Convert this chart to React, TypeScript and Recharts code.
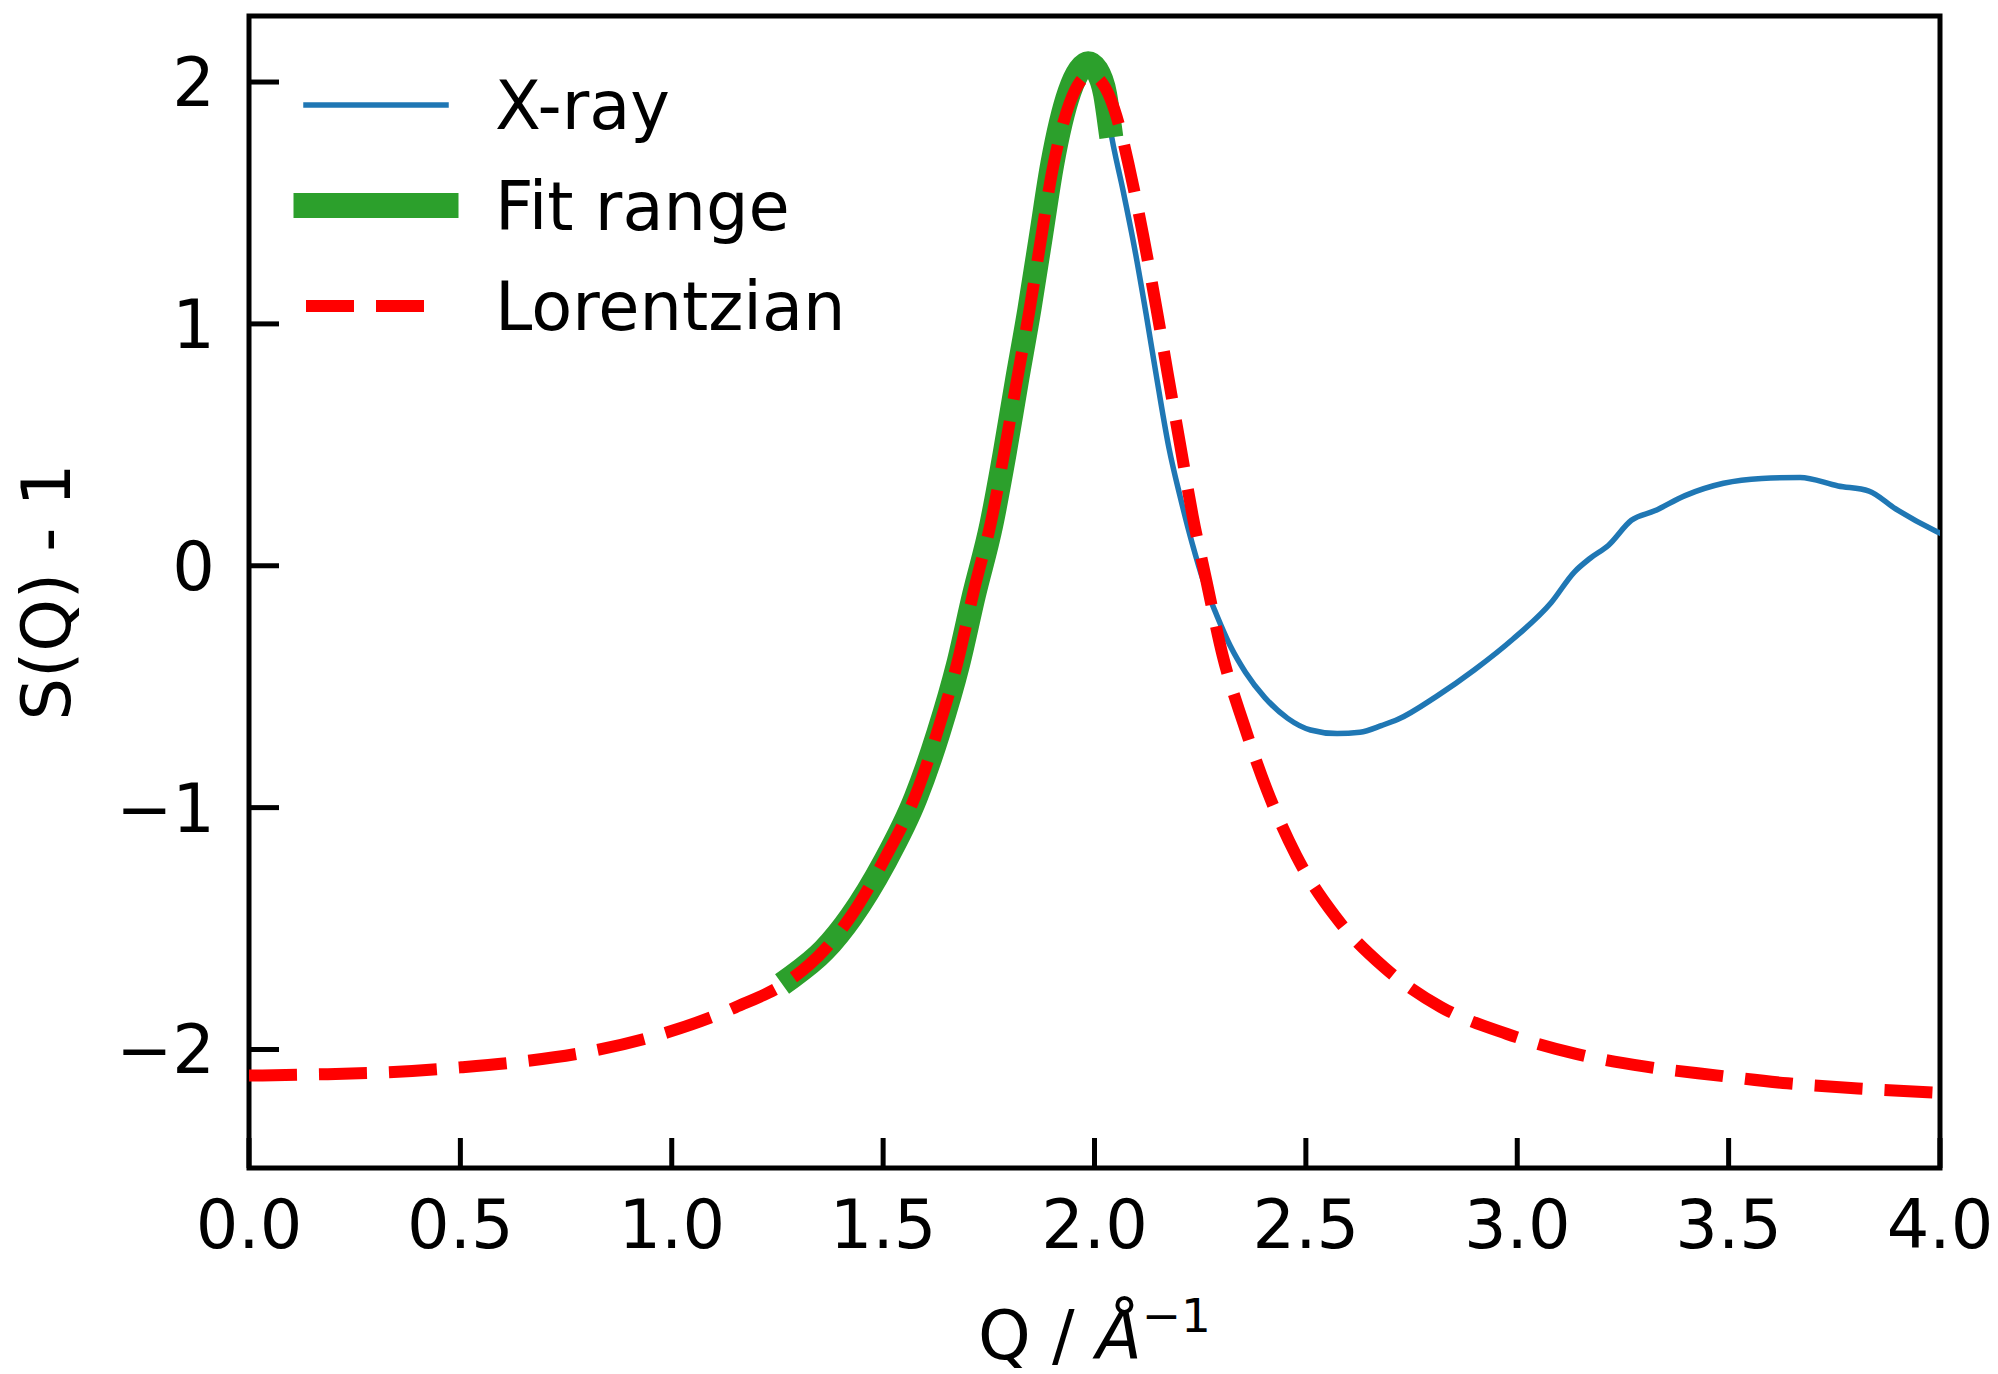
import { Legend, Line, LineChart, ReferenceArea, XAxis, YAxis } from 'recharts'

const FONT = '"DejaVu Sans", sans-serif'
const FONT_SIZE = 67

// axis layout
const qTicks = [0, 0.5, 1, 1.5, 2, 2.5, 3, 3.5, 4]
const sTicks = [-2, -1, 0, 1, 2]
const qDomain: [number, number] = [0, 4]
const sDomain: [number, number] = [-2.49, 2.273]

// X-ray S(Q) - 1
const xrayQ = [
  1.284, 1.36, 1.425, 1.502, 1.577, 1.631, 1.677, 1.715, 1.756, 1.787, 1.816,
  1.846, 1.873, 1.9, 1.941, 1.965, 1.985, 2.005, 2.025, 2.036, 2.068, 2.095,
  2.122, 2.149, 2.176, 2.203, 2.231, 2.258, 2.289, 2.321, 2.357, 2.403, 2.457,
  2.511, 2.574, 2.628, 2.68, 2.718, 2.809, 2.899, 2.99, 3.08, 3.135, 3.171,
  3.216, 3.27, 3.325, 3.397, 3.488, 3.578, 3.669, 3.759, 3.832, 3.895, 3.994,
  4.0,
]
const xrayS = [
  -1.7, -1.59, -1.45, -1.23, -0.96, -0.69, -0.41, -0.12, 0.17, 0.46, 0.76,
  1.06, 1.36, 1.66, 1.96, 2.05, 2.078, 2.05, 1.95, 1.82, 1.548, 1.311,
  1.042, 0.757, 0.488, 0.283, 0.093, -0.065, -0.204, -0.331, -0.44, -0.545,
  -0.631, -0.679, -0.694, -0.688, -0.66, -0.635, -0.54, -0.43, -0.303,
  -0.153, -0.026, 0.029, 0.085, 0.188, 0.227, 0.29, 0.341, 0.361, 0.365,
  0.33, 0.309, 0.235, 0.14, 0.135,
]

// Q window used for the fit
const fitWindow = [1.28, 2.04]

// Lorentzian fit curve
const lorentzQ = [
  0, 0.16, 0.33, 0.5, 0.66, 0.83, 0.99, 1.15, 1.284, 1.36, 1.425, 1.502,
  1.577, 1.631, 1.677, 1.715, 1.756, 1.787, 1.816, 1.846, 1.873, 1.9, 1.941,
  1.965, 1.991, 2.013, 2.038, 2.063, 2.081, 2.115, 2.145, 2.174, 2.203, 2.232,
  2.265, 2.303, 2.353, 2.409, 2.477, 2.57, 2.685, 2.82, 2.976, 3.139, 3.304,
  3.471, 3.639, 3.806, 4.0,
]
const lorentzS = [
  -2.108, -2.103, -2.094, -2.074, -2.047, -2.0, -1.929, -1.826, -1.707, -1.59,
  -1.446, -1.217, -0.948, -0.671, -0.391, -0.1, 0.188, 0.473, 0.762, 1.055,
  1.347, 1.632, 1.912, 1.999, 2.031, 2.008, 1.93, 1.79, 1.656, 1.366, 1.079,
  0.786, 0.496, 0.208, -0.065, -0.37, -0.655, -0.932, -1.198, -1.451, -1.66,
  -1.825, -1.936, -2.018, -2.071, -2.107, -2.14, -2.161, -2.179,
]

const xray = xrayQ.map((q, i) => ({ q, s: xrayS[i] }))
const fitRange = xray.filter((d) => d.q >= fitWindow[0] && d.q <= fitWindow[1])
const lorentz = lorentzQ.map((q, i) => ({ q, s: lorentzS[i] }))

const series = [
  { name: 'X-ray', data: xray, color: '#1f77b4', width: 5.5, legendWidth: 5.5 },
  { name: 'Fit range', data: fitRange, color: '#2ca02c', width: 24, legendWidth: 25 },
  { name: 'Lorentzian', data: lorentz, color: '#ff0000', width: 12, legendWidth: 12, dash: '48 22' },
]

const minus = (v: number) => (v < 0 ? '\u2212' + Math.abs(v) : String(v))

const QTick = ({ x, y, payload }: any) => (
  <g>
    <line x1={x} x2={x} y1={y} y2={y - 30} stroke="#000" strokeWidth={5} />
    <text x={x} y={y + 80} textAnchor="middle" fontSize={FONT_SIZE} fontFamily={FONT} fill="#000">
      {Number(payload.value).toFixed(1)}
    </text>
  </g>
)

const STick = ({ x, y, payload }: any) => (
  <g>
    <line x1={x} x2={x + 30} y1={y} y2={y} stroke="#000" strokeWidth={5} />
    <text x={x - 34} y={y + 24} textAnchor="end" fontSize={FONT_SIZE} fontFamily={FONT} fill="#000">
      {minus(payload.value)}
    </text>
  </g>
)

const QLabel = ({ viewBox }: any) => {
  const cx = viewBox ? viewBox.x + viewBox.width / 2 : 1095
  return (
    <text x={cx} y={1359} textAnchor="middle" fontSize={FONT_SIZE} fontFamily={FONT} fill="#000">
      {'Q / '}
      <tspan fontStyle="italic">Å</tspan>
      <tspan dy={-27} fontSize={47}>{'\u22121'}</tspan>
    </text>
  )
}

const SLabel = ({ viewBox }: any) => {
  const cy = viewBox ? viewBox.y + viewBox.height / 2 : 592
  return (
    <text
      x={70}
      y={cy}
      transform={`rotate(-90 70 ${cy})`}
      textAnchor="middle"
      fontSize={FONT_SIZE}
      fontFamily={FONT}
      fill="#000"
    >
      S(Q) - 1
    </text>
  )
}

const renderLegend = () => (
  <svg width={960} height={360} style={{ display: 'block', overflow: 'visible' }}>
    {series.map((s, i) => {
      const y = 105 + i * 100.5
      return (
        <g key={s.name}>
          <line
            x1={306}
            x2={446}
            y1={y}
            y2={y}
            stroke={s.color}
            strokeWidth={s.legendWidth}
            strokeDasharray={s.dash}
            strokeLinecap={s.dash ? 'butt' : 'square'}
          />
          <text x={495} y={y + 24} fontSize={FONT_SIZE} fontFamily={FONT} fill="#000">
            {s.name}
          </text>
        </g>
      )
    })}
  </svg>
)

export default function App() {
  return (
    <div style={{ position: 'absolute', left: 0, top: 0, width: 1998, height: 1374, background: '#fff' }}>
      <LineChart width={1998} height={1374} margin={{ top: 16, right: 58, bottom: 0, left: 0 }}>
        <XAxis
          dataKey="q"
          type="number"
          domain={qDomain}
          ticks={qTicks}
          interval={0}
          allowDataOverflow
          height={206}
          axisLine={false}
          tickLine={false}
          tickSize={0}
          tickMargin={0}
          tick={<QTick />}
          label={{ content: QLabel }}
        />
        <YAxis
          type="number"
          domain={sDomain}
          ticks={sTicks}
          interval={0}
          allowDataOverflow
          width={249}
          axisLine={false}
          tickLine={false}
          tickSize={0}
          tickMargin={0}
          tick={<STick />}
          label={{ content: SLabel }}
        />
        {series.map((s) => (
          <Line
            key={s.name}
            data={s.data}
            dataKey="s"
            name={s.name}
            type="monotone"
            stroke={s.color}
            strokeWidth={s.width}
            strokeDasharray={s.dash}
            strokeLinecap={s.dash ? 'butt' : 'square'}
            dot={false}
            activeDot={false}
            isAnimationActive={false}
          />
        ))}
        <ReferenceArea
          x1={qDomain[0]}
          x2={qDomain[1]}
          y1={sDomain[0]}
          y2={sDomain[1]}
          fill="none"
          stroke="#000"
          strokeWidth={5}
          ifOverflow="visible"
        />
        <Legend
          layout="vertical"
          align="center"
          verticalAlign="middle"
          width={960}
          height={360}
          wrapperStyle={{ left: 0, top: 0, width: 960, height: 360 }}
          content={renderLegend}
        />
      </LineChart>
    </div>
  )
}
